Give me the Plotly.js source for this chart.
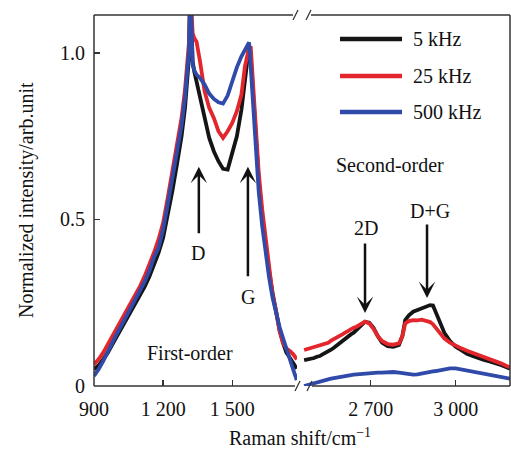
<!DOCTYPE html>
<html>
<head>
<meta charset="utf-8">
<script src="https://cdn.plot.ly/plotly-3.0.1.min.js"></script>
<style>html,body{margin:0;padding:0;background:#fff;}#chart{width:511px;height:450px;}</style>
</head>
<body>
<div id="chart"></div>
<script>
// ---- data ----
const seriesNames = ['5 kHz', '25 kHz', '500 kHz'];
const seriesColors = ['#151515', '#e3262c', '#2f4aa8'];

// first-order region (cm^-1)
const xFirst = [900, 920, 940, 960, 980, 1000, 1020, 1040, 1060, 1080, 1100, 1120, 1140, 1160, 1180, 1200, 1220, 1240, 1260, 1280, 1295, 1305, 1312, 1318, 1322, 1328, 1335, 1345, 1360, 1380, 1400, 1420, 1440, 1460, 1480, 1500, 1520, 1540, 1555, 1565, 1573, 1580, 1590, 1600, 1615, 1630, 1645, 1660, 1675, 1690, 1705, 1720, 1735, 1750, 1765, 1780];
const black1 = [0.050, 0.062, 0.080, 0.100, 0.125, 0.150, 0.175, 0.200, 0.225, 0.248, 0.272, 0.298, 0.328, 0.362, 0.400, 0.445, 0.510, 0.585, 0.665, 0.750, 0.835, 0.915, 0.985, 1.200, 1.050, 0.975, 0.945, 0.914, 0.870, 0.810, 0.745, 0.705, 0.675, 0.652, 0.650, 0.700, 0.750, 0.830, 0.910, 0.975, 1.020, 0.990, 0.880, 0.770, 0.620, 0.510, 0.420, 0.345, 0.280, 0.220, 0.170, 0.130, 0.100, 0.085, 0.070, 0.052];
const red1 = [0.065, 0.080, 0.100, 0.125, 0.150, 0.175, 0.200, 0.225, 0.248, 0.273, 0.300, 0.330, 0.362, 0.400, 0.440, 0.490, 0.565, 0.645, 0.722, 0.805, 0.890, 0.965, 1.030, 1.200, 1.120, 1.060, 1.045, 1.034, 0.975, 0.885, 0.835, 0.805, 0.765, 0.745, 0.765, 0.790, 0.825, 0.875, 0.960, 0.995, 1.015, 1.020, 0.900, 0.780, 0.640, 0.530, 0.440, 0.365, 0.275, 0.225, 0.165, 0.130, 0.112, 0.105, 0.095, 0.080];
const blue1 = [0.030, 0.050, 0.075, 0.104, 0.131, 0.158, 0.183, 0.209, 0.234, 0.259, 0.286, 0.313, 0.345, 0.385, 0.415, 0.470, 0.545, 0.627, 0.697, 0.782, 0.867, 0.940, 1.005, 1.200, 1.050, 0.965, 0.948, 0.935, 0.925, 0.905, 0.878, 0.862, 0.852, 0.848, 0.872, 0.915, 0.957, 0.990, 1.009, 1.022, 1.032, 0.960, 0.840, 0.740, 0.582, 0.480, 0.395, 0.325, 0.265, 0.215, 0.178, 0.145, 0.110, 0.078, 0.048, 0.018];

// second-order region (cm^-1)
const xSecond = [2465, 2480, 2490, 2500, 2510, 2520, 2530, 2540, 2550, 2560, 2570, 2580, 2590, 2600, 2610, 2620, 2630, 2640, 2650, 2665, 2680, 2695, 2710, 2725, 2740, 2760, 2780, 2800, 2812, 2822, 2835, 2850, 2865, 2880, 2895, 2910, 2920, 2930, 2945, 2960, 2980, 3000, 3020, 3040, 3060, 3080, 3100, 3120, 3140, 3160, 3180, 3192];
const black2 = [0.078, 0.080, 0.083, 0.084, 0.088, 0.090, 0.095, 0.099, 0.105, 0.109, 0.115, 0.122, 0.128, 0.133, 0.142, 0.147, 0.155, 0.160, 0.168, 0.180, 0.193, 0.190, 0.175, 0.150, 0.130, 0.120, 0.118, 0.123, 0.150, 0.198, 0.212, 0.223, 0.228, 0.232, 0.236, 0.243, 0.242, 0.222, 0.187, 0.160, 0.135, 0.118, 0.108, 0.097, 0.090, 0.083, 0.078, 0.074, 0.069, 0.063, 0.056, 0.052];
const red2 = [0.108, 0.112, 0.113, 0.117, 0.118, 0.121, 0.123, 0.128, 0.130, 0.136, 0.140, 0.146, 0.150, 0.155, 0.160, 0.166, 0.170, 0.175, 0.178, 0.186, 0.193, 0.188, 0.172, 0.150, 0.135, 0.126, 0.124, 0.128, 0.150, 0.188, 0.195, 0.198, 0.197, 0.199, 0.196, 0.192, 0.185, 0.175, 0.158, 0.143, 0.130, 0.120, 0.113, 0.106, 0.100, 0.093, 0.087, 0.082, 0.075, 0.068, 0.060, 0.056];
const blue2 = [0.000, 0.004, 0.006, 0.009, 0.011, 0.014, 0.016, 0.018, 0.020, 0.022, 0.024, 0.026, 0.027, 0.029, 0.030, 0.031, 0.033, 0.034, 0.035, 0.036, 0.038, 0.038, 0.039, 0.040, 0.040, 0.041, 0.042, 0.040, 0.038, 0.036, 0.034, 0.034, 0.035, 0.038, 0.040, 0.042, 0.044, 0.045, 0.048, 0.050, 0.053, 0.053, 0.050, 0.047, 0.044, 0.040, 0.037, 0.034, 0.031, 0.028, 0.024, 0.022];

const xTickVals1 = [900, 1200, 1500];
const xTickText1 = ['900', '1 200', '1 500'];
const xTickVals2 = [2700, 3000];
const xTickText2 = ['2 700', '3 000'];
const yTickVals = [0, 0.5, 1.0];
const yTickText = ['0', '0.5', '1.0'];

// ---- figure ----
const FONT = '"Liberation Serif", "Times New Roman", serif';
const tf = () => ({family: FONT, size: 20, color: '#111'});
const firstY = [black1, red1, blue1];
const secondY = [black2, red2, blue2];
const traces = [];
for (let i = 0; i < 3; i++) {
  traces.push({x: xFirst, y: firstY[i], xaxis: 'x', yaxis: 'y', mode: 'lines', name: seriesNames[i],
    line: {color: seriesColors[i], width: 3.8}, showlegend: false, hoverinfo: 'skip'});
}
for (let i = 0; i < 3; i++) {
  traces.push({x: xSecond, y: secondY[i], xaxis: 'x2', yaxis: 'y', mode: 'lines', name: seriesNames[i],
    line: {color: seriesColors[i], width: 3.8}, showlegend: false, hoverinfo: 'skip'});
}

// plot area in pixels: left 94, right 510, top 15, bottom 386
const L = 94, R = 510, T = 15, B = 386;
const px = v => (v - L) / (R - L);
const py = v => (B - v) / (B - T);
const frame = '#333';
const seg = (x0, y0, x1, y1, w) => ({type: 'line', xref: 'paper', yref: 'paper', x0: px(x0), y0: py(y0), x1: px(x1), y1: py(y1), line: {color: frame, width: w || 1.5}});

const shapes = [
  seg(L, T, L, B), seg(R, T, R, B),
  seg(L, T, 293, T), seg(311, T, R, T),
  seg(L, B, 295, B), seg(312, B, R, B),
  seg(293, 20, 298, 10, 1.3), seg(306, 20, 311, 10, 1.3),
  seg(295, 391, 300, 381, 1.3), seg(307, 391, 312, 381, 1.3)
];
// legend samples
const legY = [39, 76, 112];
for (let i = 0; i < 3; i++) {
  shapes.push({type: 'line', xref: 'paper', yref: 'paper', x0: px(340), x1: px(402), y0: py(legY[i]), y1: py(legY[i]),
    line: {color: seriesColors[i], width: 4.5}});
}

const annotations = [];
for (let i = 0; i < 3; i++) {
  annotations.push({xref: 'paper', yref: 'paper', x: px(411), y: py(legY[i]), xanchor: 'left', yanchor: 'middle',
    text: seriesNames[i], showarrow: false, font: tf()});
}
const lab = (x, y, t) => ({xref: 'paper', yref: 'paper', x: px(x), y: py(y), text: t, showarrow: false, font: tf(), xanchor: 'center', yanchor: 'middle'});
const arrow = (xr, x, y, ay) => ({xref: xr, yref: 'y', x: x, y: y, ax: 0, ay: ay, text: '', showarrow: true, arrowhead: 3, arrowsize: 1.1, arrowwidth: 2.5, arrowcolor: '#111'});
annotations.push(
  lab(190, 353, 'First-order'),
  lab(390, 165, 'Second-order'),
  lab(198, 253, 'D'),
  lab(248, 297, 'G'),
  lab(366, 228, '2D'),
  lab(430, 211, 'D+G'),
  arrow('x', 1355, 0.658, 68),
  arrow('x', 1568, 0.658, 111),
  arrow('x2', 2680, 0.219, -71),
  arrow('x2', 2899, 0.264, -75),
  lab(300, 437, 'Raman shift/cm<sup>−1</sup>'),
  Object.assign(lab(26, 200, 'Normalized intensity/arb.unit'), {textangle: -90})
);

const axCommon = () => ({showgrid: false, zeroline: false, showline: false, ticks: 'inside', ticklen: 6, tickwidth: 1.3, tickcolor: frame,
  tickfont: tf(), tickmode: 'array', ticklabelstandoff: 9});

const layout = {
  width: 511, height: 450,
  margin: {l: L, r: 511 - R, t: T, b: 450 - B},
  paper_bgcolor: '#fff', plot_bgcolor: '#fff',
  showlegend: false,
  font: {family: FONT, size: 20, color: '#111'},
  xaxis: Object.assign(axCommon(), {domain: [0, px(297)], range: [900, 1781], tickvals: xTickVals1, ticktext: xTickText1, anchor: 'y'}),
  xaxis2: Object.assign(axCommon(), {domain: [px(303), 1], range: [2461, 3192], tickvals: xTickVals2, ticktext: xTickText2, anchor: 'y'}),
  yaxis: Object.assign(axCommon(), {domain: [0, 1], range: [0, 1.114], tickvals: yTickVals, ticktext: yTickText, ticklabelstandoff: 8}),
  shapes: shapes,
  annotations: annotations
};

Plotly.newPlot('chart', traces, layout, {staticPlot: true, displayModeBar: false});
</script>
</body>
</html>
